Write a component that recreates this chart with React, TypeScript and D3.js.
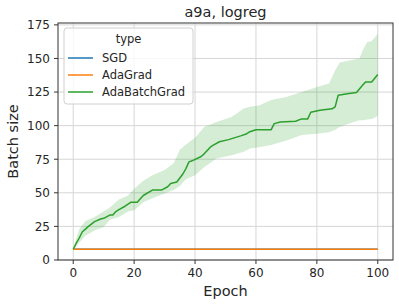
import React from "react";
import * as d3 from "d3";

const meanEpochs = [0, 1, 2, 3, 4, 5, 7, 9, 10, 12, 13, 14, 15, 17, 19, 21, 23, 26, 29, 31, 32, 34, 36, 37, 38, 39, 42, 43, 45, 46, 48, 51, 55, 57, 58, 60, 65, 66, 68, 73, 75, 77, 78, 81, 85, 86, 87, 90, 93, 95, 96, 98, 100];
const meanBatch = [8, 12.6, 16.5, 21, 23, 25, 28.5, 30.5, 31, 33.4, 33.5, 36, 37.5, 40, 43, 43, 48, 52, 52, 54.5, 57, 58, 64, 68, 73, 73.8, 77, 79, 84, 85.5, 88, 89.6, 92.4, 94, 95.5, 97, 97, 101.5, 102.7, 103.3, 105, 105, 110, 111.4, 112.5, 114, 122.6, 123.8, 124.6, 130, 132.5, 132.5, 138];

// confidence band
const bandEpochs = [0, 1, 2, 4, 7, 10, 12, 15, 18, 20, 23, 26, 30, 33, 35, 37, 40, 43, 47, 52, 56, 58, 61, 65, 70, 75, 80, 84, 86, 87.5, 91, 94, 95, 96.5, 98, 99.5, 100];
const bandUpper = [8, 16, 23, 29, 32, 36, 39, 45, 48, 53, 59, 63, 67, 72, 82, 86, 91, 99, 102.7, 106.5, 112.7, 114, 115, 119, 121.3, 125, 128.8, 131.3, 141, 147, 148.6, 150, 156, 162, 163, 167, 168.4];
const bandLower = [8, 10, 13, 18, 22, 24.5, 30, 32, 36, 37, 43, 46, 49.5, 52, 55, 60, 63, 69, 75.5, 78, 80.5, 83, 84, 85.5, 89, 93, 94, 95, 97, 99, 102, 104, 104, 104.5, 105, 106.5, 107.7];

// SGD and AdaGrad keep a constant batch size
const flatEpochs = [0, 100];
const flatBatch = [8, 8];

const xTicks = [0, 20, 40, 60, 80, 100];
const yTicks = [0, 25, 50, 75, 100, 125, 150, 175];

const seriesNames = ["SGD", "AdaGrad", "AdaBatchGrad"];
const seriesColors = ["#1f77b4", "#ff7f0e", "#2ca02c"];

const W = 399;
const H = 306;
const margin = { top: 23, right: 6, bottom: 46, left: 58 };
const font = "DejaVu Sans, sans-serif";

export default function App() {
  const x = d3.scaleLinear().domain([-5, 105]).range([margin.left, W - margin.right]);
  const y = d3.scaleLinear().domain([-0.02, 176.4]).range([H - margin.bottom, margin.top]);

  const line = d3
    .line<[number, number]>()
    .x((d) => x(d[0]))
    .y((d) => y(d[1]));

  const area = d3
    .area<number>()
    .x((_, i) => x(bandEpochs[i]))
    .y0((_, i) => y(bandLower[i]))
    .y1((_, i) => y(bandUpper[i]));

  const flat = flatEpochs.map((e, i) => [e, flatBatch[i]] as [number, number]);
  const mean = meanEpochs.map((e, i) => [e, meanBatch[i]] as [number, number]);

  const x0 = margin.left;
  const x1 = W - margin.right;
  const y0 = H - margin.bottom;
  const y1 = margin.top;

  return (
    <svg width={W} height={H} style={{ position: "absolute", left: 0, top: 0, background: "#fff" }} fontFamily={font}>
      {/* grid */}
      {xTicks.map((t) => (
        <line key={"gx" + t} x1={x(t)} x2={x(t)} y1={y1} y2={y0} stroke="#d6d6d6" strokeWidth={1} />
      ))}
      {yTicks.map((t) => (
        <line key={"gy" + t} x1={x0} x2={x1} y1={y(t)} y2={y(t)} stroke="#d6d6d6" strokeWidth={1} />
      ))}

      {/* band + lines */}
      <path d={area(bandEpochs) || ""} fill="#2ca02c" fillOpacity={0.2} stroke="none" />
      <path d={line(flat) || ""} fill="none" stroke={seriesColors[0]} strokeWidth={1.5} />
      <path d={line(flat) || ""} fill="none" stroke={seriesColors[1]} strokeWidth={1.5} />
      <path d={line(mean) || ""} fill="none" stroke={seriesColors[2]} strokeWidth={1.5} strokeLinejoin="round" />

      {/* frame */}
      <rect x={x0} y={y1} width={x1 - x0} height={y0 - y1} fill="none" stroke="#333" strokeWidth={1} />

      {/* ticks */}
      {xTicks.map((t) => (
        <g key={"tx" + t}>
          <line x1={x(t)} x2={x(t)} y1={y0} y2={y0 + 4} stroke="#333" />
          <text x={x(t)} y={y0 + 17} textAnchor="middle" fontSize={12} fill="#262626">
            {t}
          </text>
        </g>
      ))}
      {yTicks.map((t) => (
        <g key={"ty" + t}>
          <line x1={x0 - 4} x2={x0} y1={y(t)} y2={y(t)} stroke="#333" />
          <text x={x0 - 8} y={y(t) + 4.3} textAnchor="end" fontSize={12} fill="#262626">
            {t}
          </text>
        </g>
      ))}

      {/* labels */}
      <text x={(x0 + x1) / 2} y={17} textAnchor="middle" fontSize={14.5} fill="#262626">
        a9a, logreg
      </text>
      <text x={(x0 + x1) / 2} y={296} textAnchor="middle" fontSize={14.5} fill="#262626">
        Epoch
      </text>
      <text
        transform={`translate(18, ${(y0 + y1) / 2}) rotate(-90)`}
        textAnchor="middle"
        fontSize={14.5}
        fill="#262626"
      >
        Batch size
      </text>

      {/* legend */}
      <g transform="translate(64, 28)">
        <rect x={0} y={0} width={129} height={76} rx={3} fill="#fff" fillOpacity={0.8} stroke="#d0d0d0" />
        <text x={64.5} y={15} textAnchor="middle" fontSize={11.5} fill="#262626">
          type
        </text>
        {seriesNames.map((n, i) => (
          <g key={n} transform={`translate(0, ${30 + i * 17})`}>
            <line x1={4} x2={29} y1={0} y2={0} stroke={seriesColors[i]} strokeWidth={1.5} />
            <text x={38} y={4} fontSize={11.5} fill="#262626">
              {n}
            </text>
          </g>
        ))}
      </g>
    </svg>
  );
}
